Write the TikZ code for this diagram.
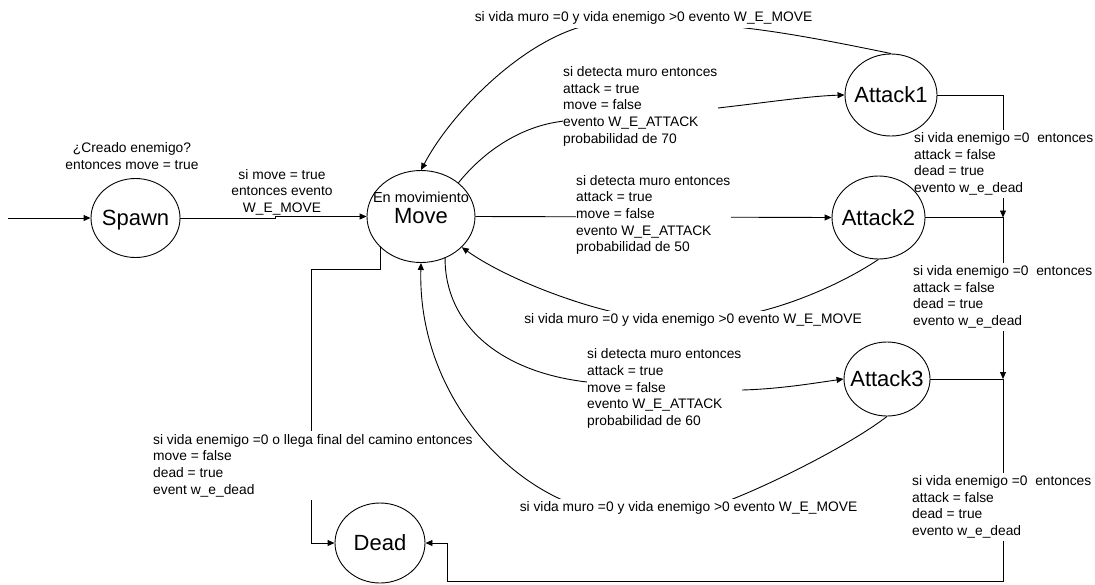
\documentclass[tikz,border=0pt]{standalone}
\usepackage{fontspec}
\setmainfont{Liberation Sans}
\usetikzlibrary{shapes.geometric,arrows.meta}
\pgfdeclarelayer{bg}
\pgfdeclarelayer{mid}
\pgfsetlayers{bg,mid,main}
\begin{document}
\begin{tikzpicture}[x=1pt,y=-1pt,
  state/.style={draw, ellipse, line width=0.9pt, inner sep=0pt},
  big/.style={font=\fontsize{22}{26}\selectfont, inner sep=0pt},
  lbl/.style={font=\fontsize{13.8}{16.6}\selectfont, align=left, fill=white, inner xsep=0.5pt, inner ysep=3pt},
  clbl/.style={font=\fontsize{13.8}{16.6}\selectfont, align=center, inner sep=1pt},
  conn/.style={line width=0.9pt},
  arr/.style={conn, -{Triangle[length=7pt,width=6pt]}}]

% states
\node[state, minimum width=89pt, minimum height=79pt, label={[big, yshift=-2pt]center:Spawn}] (sp) at (135.5,218) {};
\node[state, minimum width=108pt, minimum height=92pt, label={[big]center:Move},
      label={[clbl, font=\fontsize{14.5}{16}\selectfont, yshift=19pt]center:En movimiento}] (m) at (421,216.5) {};
\node[state, minimum width=92pt, minimum height=82pt, label={[big]center:Attack1}] (a1) at (891,95) {};
\node[state, minimum width=93pt, minimum height=83pt, label={[big]center:Attack2}] (a2) at (878.5,217.5) {};
\node[state, minimum width=86pt, minimum height=74pt, label={[big]center:Attack3}] (a3) at (887,379) {};
\node[state, minimum width=90pt, minimum height=80pt, label={[big]center:Dead}] (dd) at (380,543) {};

\begin{pgfonlayer}{bg}
\path[fill=white, use as bounding box] (0,0) rectangle (1095,584);
\coordinate (in) at (8,218);
\coordinate (j1) at (1003,217.5);
\coordinate (j2) at (1003,379);
\coordinate (c1) at (1003,581);
\coordinate (c2) at (447,581);
\draw[arr] (in) -- (sp.west);
\draw[arr] (sp.east) -- (275,218) -- (275,216.5) -- (m.west);
% Move -> Attack1
\draw[arr] (m.42) .. controls (485,150) and (520,128) .. (557,122) .. controls (600,115) and (680,110) .. (718,108) .. controls (770,102) and (810,96) .. (a1.west);
% Move -> Attack2
\draw[arr] (m.east) -- (a2.west);
% Move -> Attack3
\draw[arr] (m.-60) .. controls (445,325) and (500,372) .. (587,382) .. controls (640,386) and (700,390) .. (742,390) .. controls (780,389) and (815,383) .. (a3.west);
% Attack1 -> Move
\draw[arr] (a1.north) .. controls (850,45) and (790,33) .. (745,28) .. controls (700,18) and (620,18) .. (577,28) .. controls (515,48) and (450,115) .. (m.north);
% Attack2 -> Move
\draw[arr] (a2.south) .. controls (840,285) and (790,305) .. (753,313) .. controls (720,320) and (650,320) .. (618,313) .. controls (575,304) and (505,278) .. (m.-37);
% Attack3 -> Move
\draw[arr] (a3.south) .. controls (850,445) and (770,485) .. (725,502) .. controls (680,512) and (610,512) .. (567,502) .. controls (490,470) and (418,380) .. (m.south);
% Move -> Dead
\draw[arr] (m.-143) -- ++(0,22) -| ([xshift=-23pt]dd.west) -- (dd.west);
% right side
\draw[arr] (a1.east) -| (j1);
\draw[arr] (a2.east) -- (j1) -- (j2);
\draw[arr] (a3.east) -- (j2) -- (c1) -- (c2) |- (dd.east);
\end{pgfonlayer}

\begin{pgfonlayer}{mid}
\node[clbl] (sl) at (132,156) {¿Creado enemigo?\\entonces move = true};
\node[clbl] (sml) at (282,192) {si move = true\\entonces evento\\W\_E\_MOVE};
\node[lbl, anchor=west] (t1) at (562.5,106.4) {si detecta muro entonces\\attack = true\\move = false\\evento W\_E\_ATTACK\\probabilidad de 70};
\node[lbl, anchor=west] (t2) at (575.5,215) {si detecta muro entonces\\attack = true\\move = false\\evento W\_E\_ATTACK\\probabilidad de 50};
\node[lbl, anchor=west] (t3) at (586.5,388.5) {si detecta muro entonces\\attack = true\\move = false\\evento W\_E\_ATTACK\\probabilidad de 60};
\node[lbl, inner ysep=4pt] (b1) at (643.5,18) {si vida muro =0 y vida enemigo >0 evento W\_E\_MOVE};
\node[lbl] (b2) at (693,320) {si vida muro =0 y vida enemigo >0 evento W\_E\_MOVE};
\node[lbl] (b3) at (688.5,508) {si vida muro =0 y vida enemigo >0 evento W\_E\_MOVE};
\node[lbl, anchor=west] (r1) at (913.5,164) {si vida enemigo =0\ \ entonces\\attack = false\\dead = true\\evento w\_e\_dead};
\node[lbl, anchor=west] (r2) at (912.5,297) {si vida enemigo =0\ \ entonces\\attack = false\\dead = true\\evento w\_e\_dead};
\node[lbl, anchor=west] (r3) at (911.5,507) {si vida enemigo =0\ \ entonces\\attack = false\\dead = true\\evento w\_e\_dead};
\node[lbl, anchor=west] (dl) at (152.5,465.5) {si vida enemigo =0 o llega final del camino entonces\\move = false\\dead = true\\event w\_e\_dead};
\end{pgfonlayer}
\end{tikzpicture}
\end{document}
